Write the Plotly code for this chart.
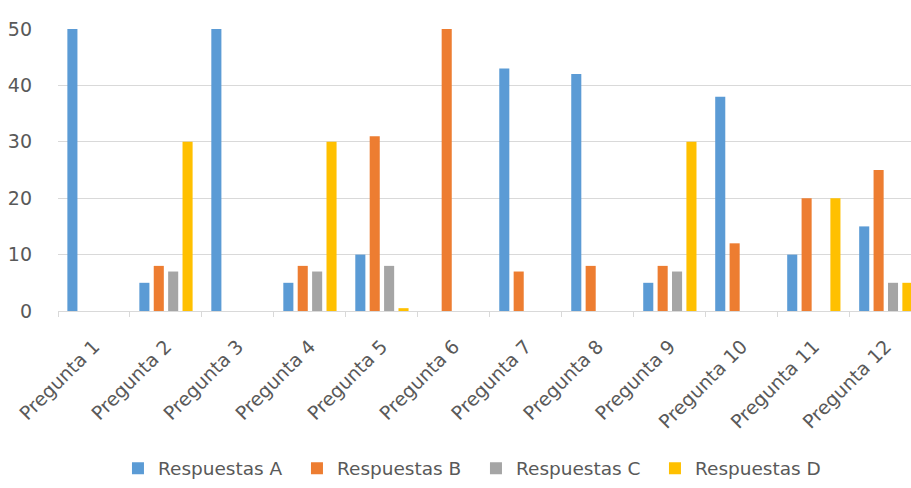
import plotly.graph_objects as go

categories = [f"Pregunta {i}" for i in range(1, 13)]
resp_a = [50, 5, 50, 5, 10, 0, 43, 42, 5, 38, 10, 15]
resp_b = [0, 8, 0, 8, 31, 50, 7, 8, 8, 12, 20, 25]
resp_c = [0, 7, 0, 7, 8, 0, 0, 0, 7, 0, 0, 5]
resp_d = [0, 30, 0, 30, 0.5, 0, 0, 0, 30, 0, 20, 5]
series_names = ["Respuestas A", "Respuestas B", "Respuestas C", "Respuestas D"]
colors = ["#5B9BD5", "#ED7D31", "#A5A5A5", "#FFC000"]

font_family = "DejaVu Sans, sans-serif"
text_color = "#595959"

fig = go.Figure()
for name, vals, col in zip(series_names, [resp_a, resp_b, resp_c, resp_d], colors):
    fig.add_trace(go.Bar(name=name, x=categories, y=vals, marker_color=col,
                         marker_line_width=0))

fig.update_layout(
    width=911, height=488,
    margin=dict(l=58, r=0, t=29, b=171),
    paper_bgcolor="white", plot_bgcolor="white",
    barmode="group", bargap=0.2, bargroupgap=0.3,
    font=dict(family=font_family, color=text_color),
    showlegend=True,
    legend=dict(orientation="h", x=0.49, xanchor="center", y=-0.559, yanchor="middle",
                font=dict(size=18.5, color=text_color),
                entrywidth=134, itemwidth=30),
)
fig.update_xaxes(
    range=[-0.5, 11.35], tickson="boundaries", ticks="outside", ticklen=5,
    tickcolor="#D9D9D9", showline=True, linecolor="#D9D9D9", linewidth=1,
    showgrid=False, tickangle=-45, automargin=False, ticklabelstandoff=16,
    tickfont=dict(size=19, color=text_color),
)
fig.update_yaxes(
    range=[0, 50], dtick=10, showgrid=True, gridcolor="#D9D9D9", gridwidth=1,
    zeroline=False, showline=False, ticks="", ticklabelstandoff=25, automargin=False,
    tickfont=dict(size=19, color=text_color),
)

fig.write_html("out.html")
